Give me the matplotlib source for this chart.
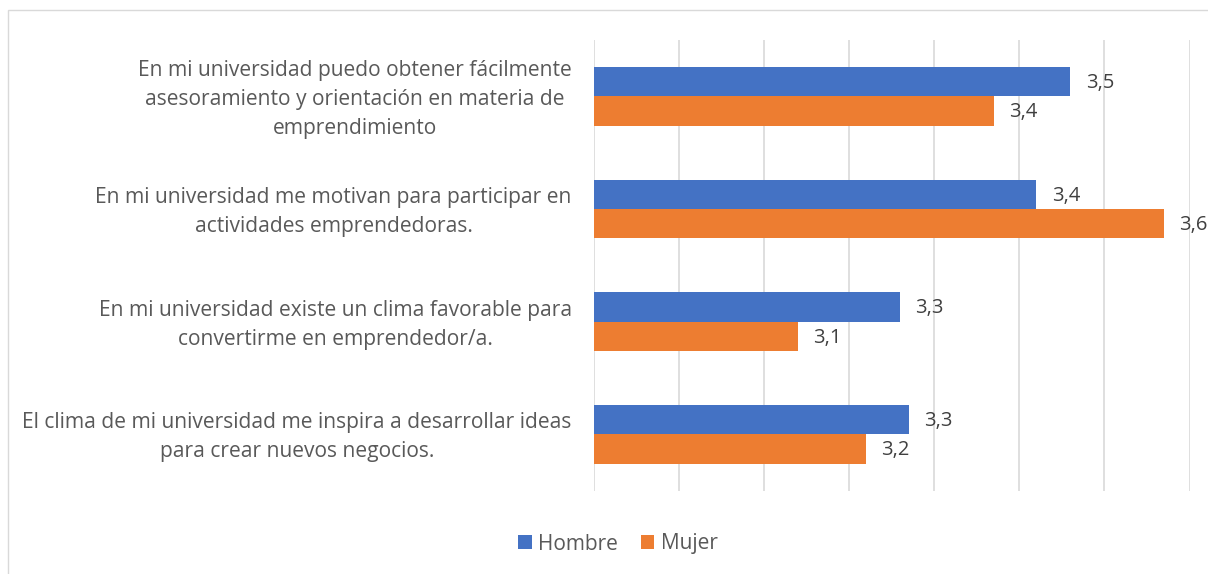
import matplotlib.pyplot as plt
from matplotlib.patches import Rectangle
import matplotlib.transforms as mtransforms
import numpy as np

# Data
categories = [
    "En mi universidad puedo obtener fácilmente\nasesoramiento y orientación en materia de\nemprendimiento",
    "En mi universidad me motivan para participar en\nactividades emprendedoras.",
    "En mi universidad existe un clima favorable para\nconvertirme en emprendedor/a.",
    "El clima de mi universidad me inspira a desarrollar ideas\npara crear nuevos negocios.",
]
hombre = [3.46, 3.42, 3.26, 3.27]
mujer = [3.37, 3.57, 3.14, 3.22]
series_names = ["Hombre", "Mujer"]

blue = "#4472C4"
orange = "#ED7D31"
text_col = "#595959"

plt.rcParams['font.family'] = ['Open Sans', 'DejaVu Sans']

fig = plt.figure(figsize=(12.08, 5.74), dpi=100)
ax = fig.add_axes([594 / 1208, 83.3 / 574, 595.5 / 1208, 450.7 / 574])

# light chart-area border
fig.patches.append(Rectangle((8 / 1208, -0.1), 1.2, 1 - 10 / 574 + 0.1,
                             transform=fig.transFigure, fill=False,
                             edgecolor="#D9D9D9", linewidth=1))

y = np.arange(len(categories))
h = 0.261
b1 = ax.barh(y - h / 2, [v - 2.9 for v in hombre], height=h, left=2.9,
             color=blue, label=series_names[0])
b2 = ax.barh(y + h / 2, [v - 2.9 for v in mujer], height=h, left=2.9,
             color=orange, label=series_names[1])

for bars, vals in ((b1, hombre), (b2, mujer)):
    for bar, v in zip(bars, vals):
        ax.annotate(f"{v:.1f}".replace('.', ','),
                    (v, bar.get_y() + bar.get_height() / 2),
                    xytext=(11, -1), textcoords='offset points',
                    va='center', ha='left', fontsize=14.5, color="#404040")

ax.set_xlim(2.9, 3.6)
ax.set_ylim(3.5, -0.5)
ax.set_xticks(np.arange(2.9, 3.65, 0.1))
ax.set_xticklabels([])
ax.grid(axis='x', color="#D9D9D9", linewidth=1.2)
ax.set_axisbelow(True)
for s in ax.spines.values():
    s.set_visible(False)
ax.tick_params(length=0)

ax.set_yticks(y)
ax.set_yticklabels(categories, fontsize=15.1, color=text_col, linespacing=1.5)
ax.tick_params(axis='y', pad=16)
shift = mtransforms.ScaledTranslation(0, 3.5 / 100, fig.dpi_scale_trans)
for t in ax.get_yticklabels():
    t.set_multialignment('center')
    t.set_transform(t.get_transform() + shift)

fig.legend(handles=[b1, b2], labels=series_names, loc='center',
           bbox_to_anchor=(618 / 1208, 1 - 544 / 574), ncol=2, frameon=False,
           fontsize=15, labelcolor=text_col, handlelength=0.65, handleheight=0.65,
           handletextpad=0.3, columnspacing=1.1)

fig.savefig("out.png", dpi=100)
